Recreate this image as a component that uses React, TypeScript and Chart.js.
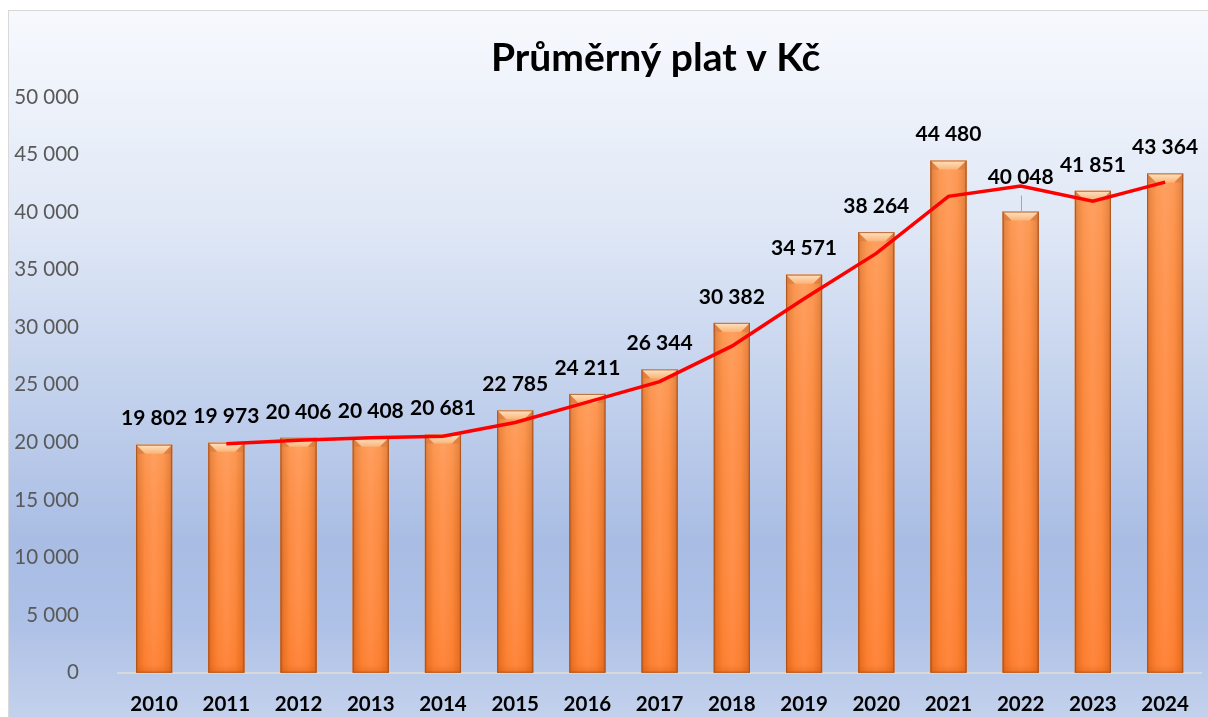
import { useEffect, useRef } from "react";
import { Chart, registerables } from "chart.js";

Chart.register(...registerables);

const years = ["2010", "2011", "2012", "2013", "2014", "2015", "2016", "2017", "2018", "2019", "2020", "2021", "2022", "2023", "2024"];
const salaries = [19802, 19973, 20406, 20408, 20681, 22785, 24211, 26344, 30382, 34571, 38264, 44480, 40048, 41851, 43364];
// red trend line (2-period moving average as drawn in the picture)
const trend = [null, 19888, 20190, 20407, 20545, 21733, 23498, 25278, 28363, 32477, 36418, 41372, 42264, 40950, 42608];
const yMin = 0;
const yMax = 50000;
const yStep = 5000;
const TITLE = "Průměrný plat v Kč";
const LIFTED_LABEL = "2022";

const FONT = "Lato, 'Open Sans', 'Noto Sans', sans-serif";

function fmt(n: number): string {
  return Math.round(n).toString().replace(/\B(?=(\d{3})+(?!\d))/g, " ");
}

const backgroundPlugin = {
  id: "bgGradient",
  beforeDraw(chart: any) {
    const { ctx, width } = chart;
    const height = 706;
    const g = ctx.createLinearGradient(0, 0, 0, height);
    g.addColorStop(0, "#f7f9fd");
    g.addColorStop(0.3, "#e0e8f6");
    g.addColorStop(0.75, "#a9bde4");
    g.addColorStop(0.86, "#adc0e6");
    g.addColorStop(1, "#c3d1ec");
    ctx.save();
    ctx.fillStyle = g;
    ctx.fillRect(0, 0, width, chart.height);
    ctx.restore();
  },
};

const barStylePlugin = {
  id: "barStyle",
  afterDatasetDraw(chart: any, args: any) {
    if (args.index !== 0) return;
    const { ctx } = chart;
    const meta = chart.getDatasetMeta(0);
    ctx.save();
    meta.data.forEach((el: any) => {
      const { x, y, base, width } = el.getProps(["x", "y", "base", "width"], true);
      const left = x - width / 2;
      const right = x + width / 2;
      const h = base - y;
      const hg = ctx.createLinearGradient(left, 0, right, 0);
      hg.addColorStop(0, "#b8561c");
      hg.addColorStop(0.07, "#e2742c");
      hg.addColorStop(0.25, "#fb8a40");
      hg.addColorStop(0.5, "#ff9452");
      hg.addColorStop(0.75, "#fb8a40");
      hg.addColorStop(0.93, "#e2742c");
      hg.addColorStop(1, "#b8561c");
      ctx.fillStyle = hg;
      ctx.fillRect(left, y, width, h);
      const vg = ctx.createLinearGradient(0, y, 0, base);
      vg.addColorStop(0, "rgba(255,200,150,0.25)");
      vg.addColorStop(0.6, "rgba(255,120,30,0.08)");
      vg.addColorStop(1, "rgba(255,100,10,0.3)");
      ctx.fillStyle = vg;
      ctx.fillRect(left, y, width, h);
      const b = Math.min(9, h);
      const tg = ctx.createLinearGradient(0, y, 0, y + b);
      tg.addColorStop(0, "#ffe3c2");
      tg.addColorStop(1, "#f9b57a");
      ctx.fillStyle = tg;
      ctx.beginPath();
      ctx.moveTo(left, y);
      ctx.lineTo(right, y);
      ctx.lineTo(right - b, y + b);
      ctx.lineTo(left + b, y + b);
      ctx.closePath();
      ctx.fill();
      ctx.fillStyle = "rgba(214,120,60,0.55)";
      ctx.beginPath();
      ctx.moveTo(left, y);
      ctx.lineTo(left + b, y + b);
      ctx.lineTo(left, y + b);
      ctx.closePath();
      ctx.fill();
      ctx.beginPath();
      ctx.moveTo(right, y);
      ctx.lineTo(right - b, y + b);
      ctx.lineTo(right, y + b);
      ctx.closePath();
      ctx.fill();
      const bg = ctx.createLinearGradient(0, base - 8, 0, base);
      bg.addColorStop(0, "rgba(200,90,20,0)");
      bg.addColorStop(1, "rgba(200,90,20,0.35)");
      ctx.fillStyle = bg;
      ctx.fillRect(left, base - 8, width, 8);
      ctx.strokeStyle = "rgba(170,80,25,0.8)";
      ctx.lineWidth = 1;
      ctx.strokeRect(left + 0.5, y + 0.5, width - 1, h - 1);
    });
    ctx.restore();
  },
};

const labelsPlugin = {
  id: "valueLabels",
  afterDatasetsDraw(chart: any) {
    const { ctx, chartArea } = chart;
    const meta = chart.getDatasetMeta(0);
    ctx.save();
    ctx.textAlign = "center";
    ctx.textBaseline = "middle";
    ctx.fillStyle = "#000000";
    ctx.font = `bold 21px ${FONT}`;
    meta.data.forEach((el: any, i: number) => {
      const { x, y } = el.getProps(["x", "y"], true);
      let ly = y - 26;
      if (years[i] === LIFTED_LABEL) {
        ly = y - 34;
        ctx.strokeStyle = "#a6a6a6";
        ctx.lineWidth = 1;
        ctx.beginPath();
        ctx.moveTo(Math.round(x) + 0.5, ly + 18);
        ctx.lineTo(Math.round(x) + 0.5, y);
        ctx.stroke();
      }
      ctx.fillText(fmt(salaries[i]), x, ly);
    });
    ctx.font = `bold 39px ${FONT}`;
    ctx.fillText(TITLE, (chartArea.left + chartArea.right) / 2 - 4, chartArea.top - 39);
    ctx.restore();
  },
};

export default function App() {
  const ref = useRef<HTMLCanvasElement | null>(null);

  useEffect(() => {
    if (!ref.current) return;
    const chart = new Chart(ref.current, {
      type: "bar",
      data: {
        labels: years,
        datasets: [
          {
            type: "bar",
            label: "Průměrný plat",
            data: salaries,
            backgroundColor: "#fb8a3c",
            barPercentage: 0.5,
            categoryPercentage: 1,
            order: 1,
          } as any,
          {
            type: "line",
            label: "Trend",
            data: trend,
            borderColor: "#ff0000",
            borderWidth: 3.5,
            pointRadius: 0,
            tension: 0,
            fill: false,
            order: 0,
          } as any,
        ],
      },
      options: {
        animation: false,
        responsive: false,
        maintainAspectRatio: false,
        layout: { padding: { top: 86, right: 3, left: 0, bottom: 0 } },
        plugins: {
          legend: { display: false },
          tooltip: { enabled: false },
          title: { display: false },
        },
        scales: {
          x: {
            grid: { display: false, drawTicks: false },
            border: { display: true, color: "#d9d9d9", width: 2 },
            ticks: {
              color: "#000000",
              font: { family: FONT, size: 20.5, weight: "bold" },
              padding: 19,
              maxRotation: 0,
              autoSkip: false,
            },
            afterFit(scale: any) {
              scale.height = 45;
            },
          },
          y: {
            min: yMin,
            max: yMax,
            grid: { display: false, drawTicks: false },
            border: { display: false },
            ticks: {
              stepSize: yStep,
              color: "#595959",
              font: { family: FONT, size: 20.5 },
              padding: 39,
              callback: (v: any) => fmt(Number(v)),
            },
            afterFit(scale: any) {
              scale.width = 109;
            },
          },
        },
      },
      plugins: [backgroundPlugin, barStylePlugin, labelsPlugin],
    });
    return () => chart.destroy();
  }, []);

  return (
    <div
      style={{
        position: "fixed",
        left: 8,
        top: 10,
        width: 1200,
        height: 714,
        boxSizing: "border-box",
        borderLeft: "1px solid #d9d9d9",
        borderTop: "1px solid #d9d9d9",
        overflow: "hidden",
      }}
    >
      <canvas ref={ref} width={1199} height={713} style={{ display: "block", width: 1199, height: 713 }} />
    </div>
  );
}
